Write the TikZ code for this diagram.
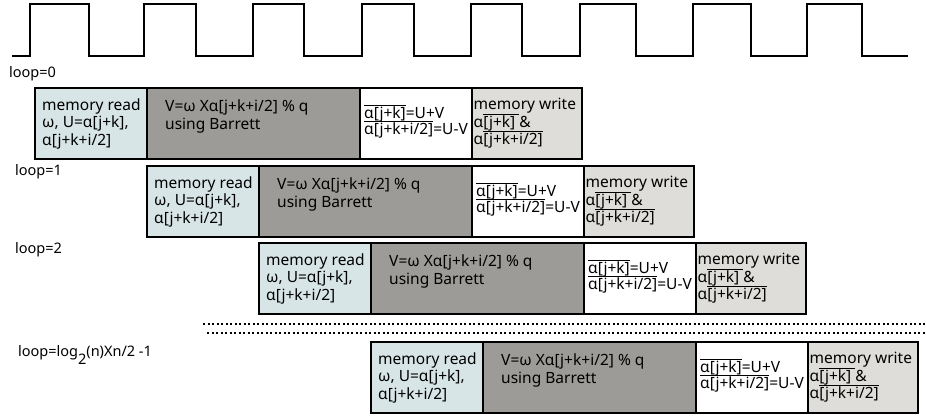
\documentclass[tikz,border=0pt]{standalone}
\usepackage{fontspec}
\setmainfont{Noto Sans}
\usetikzlibrary{positioning}
\definecolor{colleer}{RGB}{216,229,230}
\definecolor{colmult}{RGB}{157,155,151}
\definecolor{colescr}{RGB}{222,221,218}
\tikzset{
  caja/.style={draw, line width=2pt, outer sep=0pt, inner sep=0pt, minimum height=71pt},
  leer/.style={caja, fill=colleer, minimum width=112pt},
  mult/.style={caja, fill=colmult, minimum width=213pt},
  suma/.style={caja, fill=white, minimum width=112pt},
  escr/.style={caja, fill=colescr, minimum width=110pt},
  texto/.style={inner sep=0pt, align=left, font=\fontsize{15.5}{17.5}\selectfont},
  etiq/.style={inner sep=0pt, anchor=west, font=\fontsize{14.5}{16}\selectfont},
  reloj/.style={line width=1.8pt},
  puntos/.style={line width=2pt, dash pattern=on 2pt off 2.5pt}
}
% una etapa: leer, multiplicar, sumar, escribir
\newcommand{\etapa}[3]{%
  \node[leer, anchor=north west] (leer#1) at (#2,#3) {};
  \node[mult, right=0pt of leer#1] (mult#1) {};
  \node[suma, right=0pt of mult#1] (suma#1) {};
  \node[escr, right=0pt of suma#1] (escr#1) {};
  \node[texto, anchor=west] (tleer#1) at ([xshift=7pt]leer#1.west) {memory read\\ω, U=α[j+k],\\α[j+k+i/2]};
  \node[texto, anchor=north west] (tmult#1) at ([xshift=18pt,yshift=-12pt]mult#1.north west) {V=ω Xα[j+k+i/2] \% q\\using Barrett};
  \node[texto, anchor=west] (tsuma#1) at ([xshift=4pt,yshift=2pt]suma#1.west) {$\overline{\mbox{α[j+k]}}$=U+V\\[-2pt]$\overline{\mbox{α[j+k+i/2]}}$=U-V};
  \node[texto, anchor=west] (tescr#1) at ([xshift=1.5pt]escr#1.west) {memory write\\α$\overline{\mbox{[j+k] }}$\&\\α$\overline{\mbox{[j+k+i/2]}}$};
}
\begin{document}
\begin{tikzpicture}[x=1pt,y=-1pt]
    \useasboundingbox (0,0) rectangle (926,417);
    % Dibuja la senal de reloj
    \draw[reloj] (12,56) \foreach \s/\b in {30/89,144/196,253/304,362/414,471/522,580/636,693/751,807/862} { -- (\s,56) -- (\s,4) -- (\b,4) -- (\b,56) } -- (908,56);
    \node[etiq] (l0) at (9,74) {loop=0};
    \node[etiq] (l1) at (15,172) {loop=1};
    \node[etiq] (l2) at (15,250) {loop=2};
    \node[etiq] (ln) at (18,355) {loop=log\raisebox{-0.5em}{2}(n)Xn/2 -1};
    \etapa{0}{35}{88}
    \etapa{1}{147}{166}
    \etapa{2}{259}{243}
    % lineas de puntos
    \draw[puntos] (203,324) -- (926,324);
    \draw[puntos] (207,333) -- (926,333);
    \etapa{3}{371}{342}
\end{tikzpicture}
\end{document}
